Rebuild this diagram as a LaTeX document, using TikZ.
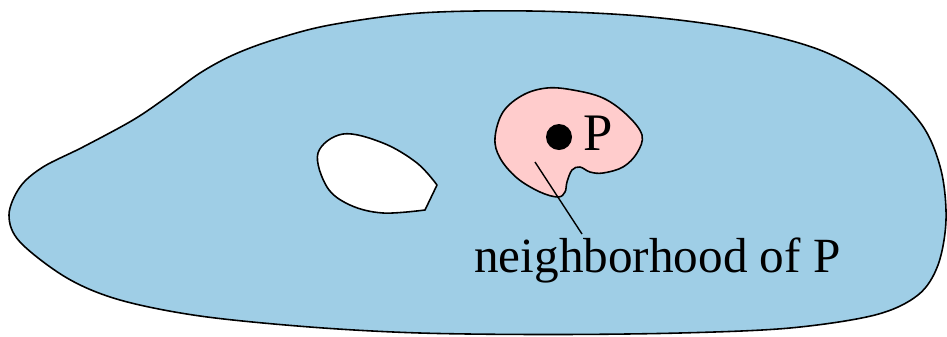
\documentclass[tikz,border=0pt]{standalone}
\usepackage{fontspec}
\setmainfont{Liberation Serif}
\definecolor{regionblue}{RGB}{159,206,230}
\definecolor{nbhdpink}{RGB}{255,204,204}
\tikzset{
  outline/.style={draw=black, line width=0.9pt, line join=round},
  labeltext/.style={inner sep=0pt, font=\fontsize{28}{30}\selectfont},
}
\begin{document}
\begin{tikzpicture}[x=0.02cm, y=-0.02cm]
\useasboundingbox (0,0) rectangle (947,336);
% main region
\draw[outline, fill=regionblue] plot[smooth cycle, tension=0.55] coordinates {
 (9,215) (20,187) (43,167) (83,147) (133,120) (167,97) (200,73) (233,55)
 (273,40) (330,25) (420,13) (530,11)
 (640,16) (740,29) (820,50) (880,83) (922,125) (941,170) (946,220) (938,265)
 (918,295) (875,315) (790,328) (680,333) (550,334.5) (420,333) (310,327)
 (200,316) (120,300) (67,278) (20,242)};
% hole
\draw[outline, fill=white] plot[smooth, tension=0.6] coordinates {
 (437,185) (417,163) (383,143) (343,134) (318,153) (327,187) (350,205) (383,213) (425,210)} -- cycle;
% neighborhood
\draw[outline, fill=nbhdpink] plot[smooth cycle, tension=0.6] coordinates {
 (495,138) (503,112) (523,95) (547,88) (573,90) (603,98) (627,115) (642,135)
 (637,153) (623,167) (603,173) (590,172) (580,167) (572,170) (567,182)
 (565,192) (558,197) (540,192) (517,178) (500,158)};
% point P
\fill (559,137) coordinate (ptP) circle (13);
\node[labeltext, font=\fontsize{30}{32}\selectfont, anchor=base west] (Plabel) at (583,150) {P};
% label
\node[labeltext, anchor=base west] (nlabel) at (474,272) {neighborhood of P};
\coordinate (lineStart) at (535,162);
\coordinate (lineEnd) at (582,234);
\draw[line width=0.8pt] (lineStart) -- (lineEnd);
\end{tikzpicture}
\end{document}
